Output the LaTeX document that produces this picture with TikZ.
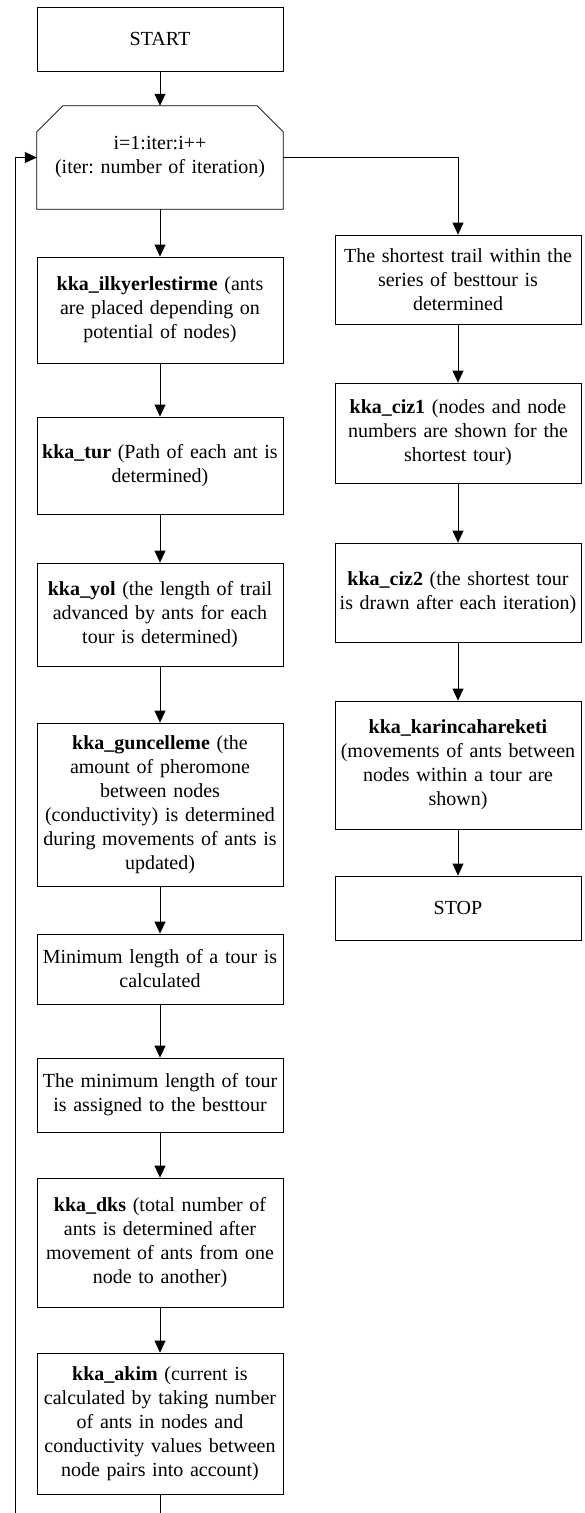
\documentclass[tikz,border=0pt]{standalone}
\usepackage{fontspec}
\setmainfont{Liberation Serif}
\usetikzlibrary{arrows.meta}
\frenchspacing
\begin{document}
\begin{tikzpicture}[x=1pt,y=-1pt,
  every node/.style={font=\fontsize{20}{24}\selectfont},
  box/.style={draw, line width=0.8pt, minimum width=246pt, align=center, inner sep=0pt, text width=244pt},
  tbox/.style={minimum width=246pt, align=center, inner sep=0pt, text width=244pt},
  arr/.style={line width=0.8pt, -{Triangle[length=12pt,width=11pt]}},
  ln/.style={line width=0.8pt}]
\useasboundingbox (0,0) rectangle (585,1513);
% left column
\node[box, minimum height=64pt] (start) at (160,39) {START};
\node[tbox, minimum height=103pt] (loop) at (160,157.5) {i=1:iter:i++\\(iter:\ number of iteration)};
\draw[ln] (loop.south west) -- ([yshift=-26pt]loop.north west) -- ([xshift=26pt]loop.north west) -- ([xshift=-26pt]loop.north east) -- ([yshift=-26pt]loop.north east) -- (loop.south east) -- cycle;
\node[box, minimum height=106pt] (ilk) at (160,310) {\textbf{kka\_ilkyerlestirme} (ants\\are placed depending on\\potential of nodes)};
\node[box, minimum height=97pt] (tur) at (160,465.5) {\textbf{kka\_tur} (Path of each ant is\\determined)};
\node[box, minimum height=103pt] (yol) at (160,614.5) {\textbf{kka\_yol} (the length of trail\\advanced by ants for each\\tour is determined)};
\node[box, minimum height=163pt] (gun) at (160,804.5) {\textbf{kka\_guncelleme} (the\\amount of pheromone\\between nodes\\(conductivity) is determined\\during movements of ants is\\updated)};
\node[box, minimum height=70pt] (minl) at (160,969) {Minimum length of a tour is\\calculated};
\node[box, minimum height=74pt] (best) at (160,1095) {The minimum length of tour\\is assigned to the besttour};
\node[box, minimum height=129pt] (dks) at (160,1242.5) {\textbf{kka\_dks} (total number of\\ants is determined after\\movement of ants from one\\node to another)};
\node[box, minimum height=141pt] (akim) at (160,1423.5) {\textbf{kka\_akim} (current is\\calculated by taking number\\of ants in nodes and\\conductivity values between\\node pairs into account)};
% right column
\node[box, minimum height=89pt] (trail) at (458,279.5) {The shortest trail within the\\series of besttour is\\determined};
\node[box, minimum height=100pt] (ciz1) at (458,433) {\textbf{kka\_ciz1} (nodes and node\\numbers are shown for the\\shortest tour)};
\node[box, minimum height=99pt] (ciz2) at (458,592.5) {\textbf{kka\_ciz2} (the shortest tour\\is drawn after each iteration)};
\node[box, minimum height=128pt] (kar) at (458,765) {\textbf{kka\_karincahareketi}\\(movements of ants between\\nodes within a tour are\\shown)};
\node[box, minimum height=64pt] (stop) at (458,908) {STOP};
% connectors
\coordinate (abot) at (160,1513);
\coordinate (lbot) at (15,1513);
\draw[arr] (start) -- (loop);
\draw[arr] (loop.south) -- (ilk);
\draw[arr] (ilk) -- (tur);
\draw[arr] (tur) -- (yol);
\draw[arr] (yol) -- (gun);
\draw[arr] (gun) -- (minl);
\draw[arr] (minl) -- (best);
\draw[arr] (best) -- (dks);
\draw[arr] (dks) -- (akim);
\draw[ln] (akim.south) -- (abot);
\draw[arr] (lbot) |- (loop.west);
\draw[arr] (loop.east) -| (trail.north);
\draw[arr] (trail) -- (ciz1);
\draw[arr] (ciz1) -- (ciz2);
\draw[arr] (ciz2) -- (kar);
\draw[arr] (kar) -- (stop);
\end{tikzpicture}
\end{document}
